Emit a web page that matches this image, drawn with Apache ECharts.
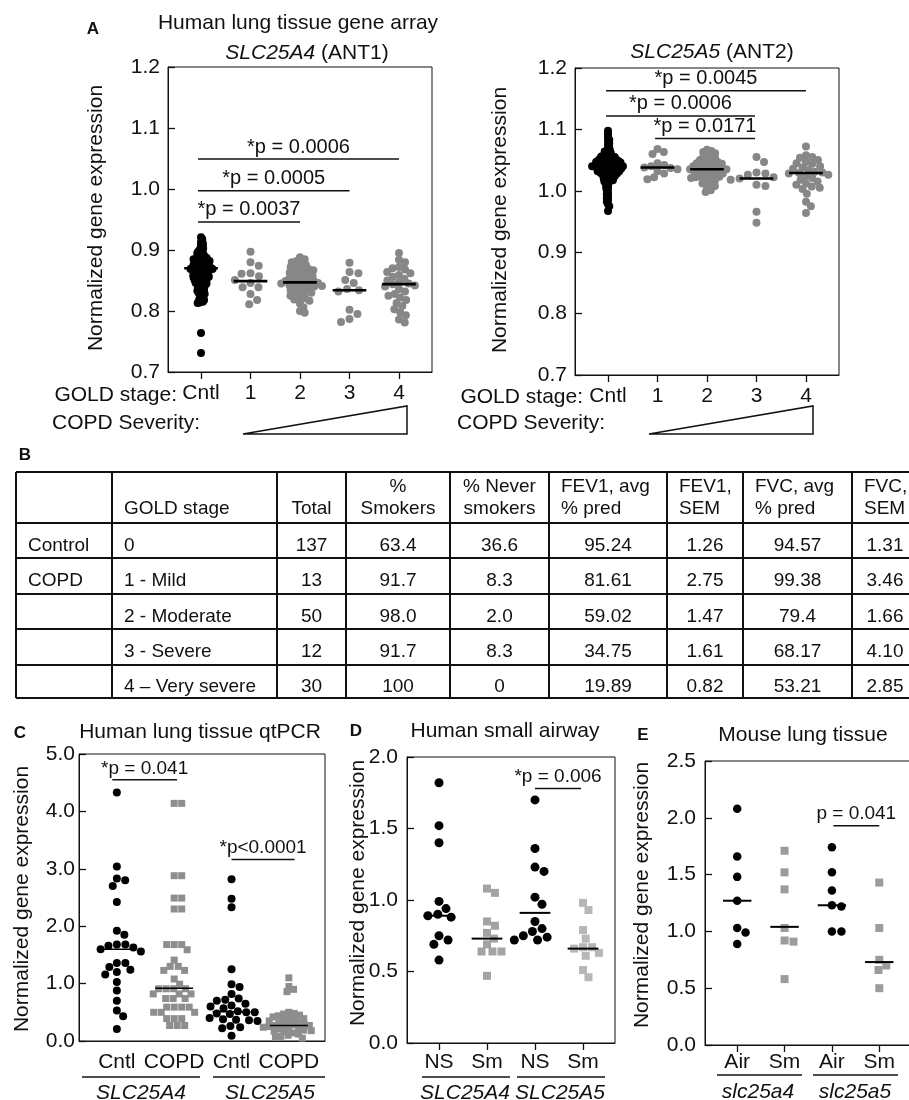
<!DOCTYPE html>
<html>
<head>
<meta charset="utf-8">
<title>SLC25A4 / SLC25A5 expression in COPD</title>
<script src="https://cdn.jsdelivr.net/npm/echarts@6/dist/echarts.min.js"></script>
<style>
  html, body { margin: 0; padding: 0; background: #fff; }
  #chart { width: 909px; height: 1100px; }
</style>
</head>
<body>
<div id="chart"></div>
<script>
// ---------------- data ----------------

// A: gene array, SLC25A4 (ANT1)
const goldStages = ['Cntl', '1', '2', '3', '4'];
const ant1Cntl = [
  0.921, 0.918,
  0.913, 0.911, 0.909, 0.907,
  0.904, 0.903, 0.901, 0.900, 0.898, 0.897, 0.896, 0.895,
  0.894, 0.893, 0.892, 0.891, 0.890, 0.889, 0.889, 0.888, 0.887, 0.887, 0.886, 0.886, 0.885, 0.885,
  0.884, 0.884, 0.883, 0.883, 0.882, 0.882, 0.881, 0.881, 0.880, 0.880, 0.879, 0.879, 0.878, 0.878,
  0.877, 0.877, 0.876, 0.876, 0.875, 0.875,
  0.874, 0.874, 0.873, 0.873, 0.872, 0.872, 0.872, 0.871, 0.871, 0.871, 0.870, 0.870, 0.870, 0.869,
  0.869, 0.869, 0.868, 0.868, 0.867, 0.867, 0.866, 0.866, 0.865, 0.865,
  0.864, 0.864, 0.863, 0.863, 0.862, 0.862, 0.861, 0.861, 0.860, 0.860, 0.859, 0.859, 0.858, 0.858,
  0.857, 0.857, 0.856, 0.856, 0.855, 0.855, 0.855, 0.854,
  0.853, 0.852, 0.852, 0.851, 0.850, 0.850, 0.849, 0.848, 0.848, 0.847, 0.846, 0.846, 0.845, 0.844,
  0.844, 0.843, 0.842, 0.841,
  0.840, 0.839, 0.838, 0.837, 0.836, 0.835, 0.834, 0.833, 0.832, 0.831, 0.830, 0.829,
  0.828, 0.826, 0.824, 0.822, 0.820, 0.819, 0.818,
  0.817, 0.815, 0.814, 0.813,
  0.764, 0.731
];
const ant1Gold1 = [0.897, 0.880, 0.874, 0.862, 0.861, 0.857, 0.851, 0.846, 0.839, 0.839, 0.828, 0.818, 0.811];
const ant1Gold2 = [
  0.888, 0.885, 0.882, 0.880, 0.878, 0.876, 0.874, 0.872, 0.870, 0.869,
  0.867, 0.866, 0.864, 0.863, 0.861, 0.860, 0.858, 0.857, 0.855, 0.854,
  0.852, 0.851, 0.850, 0.849, 0.848, 0.847, 0.846, 0.845, 0.844, 0.843,
  0.842, 0.841, 0.840, 0.838, 0.837, 0.835, 0.834, 0.832, 0.830, 0.829,
  0.827, 0.825, 0.823, 0.821, 0.819, 0.817, 0.812, 0.806, 0.800, 0.797
];
const ant1Gold3 = [0.879, 0.864, 0.862, 0.851, 0.846, 0.836, 0.834, 0.832, 0.802, 0.795, 0.787, 0.782];
const ant1Gold4 = [
  0.895, 0.884, 0.880, 0.872, 0.870, 0.868, 0.864, 0.862, 0.859, 0.856,
  0.853, 0.850, 0.847, 0.845, 0.844, 0.842, 0.840, 0.836, 0.832, 0.828,
  0.825, 0.822, 0.818, 0.813, 0.808, 0.803, 0.798, 0.793, 0.786, 0.781
];
const ant1Medians = [0.870, 0.849, 0.847, 0.834, 0.844];
const ant1PLabels = ['*p = 0.0037', '*p = 0.0005', '*p = 0.0006'];
const ant1PFrom = [-0.06, -0.06, -0.06];
const ant1PTo = [2, 3, 4];
const ant1PLevel = [0.946, 0.997, 1.049];

// A: gene array, SLC25A5 (ANT2)
const ant2Cntl = [
  1.098, 1.094, 1.090, 1.086, 1.083, 1.080,
  1.077, 1.074, 1.071, 1.068, 1.066,
  1.065, 1.064, 1.063, 1.062, 1.061, 1.060, 1.059, 1.058, 1.057, 1.057, 1.056, 1.056, 1.055, 1.055,
  1.054, 1.054, 1.053, 1.053, 1.052, 1.052, 1.051, 1.051, 1.050, 1.050, 1.050, 1.049, 1.049, 1.049,
  1.048, 1.048, 1.048, 1.047, 1.047, 1.047, 1.046, 1.046, 1.046, 1.045, 1.045,
  1.044, 1.044, 1.044, 1.043, 1.043, 1.043, 1.042, 1.042, 1.042, 1.042, 1.041, 1.041, 1.041, 1.041,
  1.040, 1.040, 1.040, 1.040, 1.039, 1.039, 1.039, 1.039, 1.038, 1.038, 1.038, 1.037, 1.037, 1.037,
  1.036, 1.036, 1.036, 1.035,
  1.035, 1.034, 1.034, 1.034, 1.033, 1.033, 1.033, 1.032, 1.032, 1.032, 1.031, 1.031, 1.030, 1.030,
  1.030, 1.029, 1.029, 1.028, 1.028, 1.027, 1.027, 1.026, 1.026, 1.025, 1.025,
  1.024, 1.023, 1.023, 1.022, 1.021, 1.021, 1.020, 1.019, 1.018, 1.018, 1.017, 1.016, 1.015, 1.015,
  1.013, 1.011, 1.009, 1.007, 1.005, 1.003,
  1.000, 0.997, 0.994, 0.991,
  0.988, 0.985, 0.982,
  0.978, 0.975,
  0.967
];
const ant2Gold1 = [1.068, 1.063, 1.060, 1.045, 1.042, 1.040, 1.038, 1.037, 1.035, 1.032, 1.028, 1.022, 1.019];
const ant2Gold2 = [
  1.067, 1.065, 1.063, 1.061, 1.059, 1.057, 1.055, 1.053, 1.051, 1.050,
  1.048, 1.047, 1.046, 1.045, 1.044, 1.043, 1.042, 1.041, 1.040, 1.039,
  1.038, 1.037, 1.036, 1.036, 1.035, 1.035, 1.034, 1.033, 1.032, 1.031,
  1.030, 1.029, 1.028, 1.027, 1.026, 1.025, 1.024, 1.023, 1.022, 1.021,
  1.020, 1.018, 1.016, 1.014, 1.012, 1.010, 1.008, 1.005, 1.001, 0.998
];
const ant2Gold3 = [1.055, 1.047, 1.030, 1.028, 1.026, 1.022, 1.020, 1.018, 1.010, 1.008, 0.966, 0.948];
const ant2Gold4 = [
  1.072, 1.058, 1.055, 1.054, 1.050, 1.047, 1.045, 1.044, 1.040, 1.038,
  1.036, 1.034, 1.031, 1.030, 1.029, 1.028, 1.026, 1.024, 1.021, 1.018,
  1.015, 1.012, 1.010, 1.007, 1.005, 1.003, 0.995, 0.982, 0.975, 0.964
];
const ant2Medians = [1.040, 1.038, 1.035, 1.020, 1.029];
const ant2PLabels = ['*p = 0.0171', '*p = 0.0006', '*p = 0.0045'];
const ant2PFrom = [0.95, -0.04, -0.04];
const ant2PTo = [2.97, 2.97, 4];
const ant2PLevel = [1.085, 1.122, 1.163];

// B: cohort table
const tableHeader = ['', 'GOLD stage', 'Total', '%\nSmokers', '% Never\nsmokers', 'FEV1, avg\n% pred', 'FEV1,\nSEM', 'FVC, avg\n% pred', 'FVC,\nSEM'];
const tableGroup = ['Control', 'COPD', '', '', ''];
const tableStage = ['0', '1 - Mild', '2 - Moderate', '3 - Severe', '4 \u2013 Very severe'];
const tableTotal = ['137', '13', '50', '12', '30'];
const tableSmokers = ['63.4', '91.7', '98.0', '91.7', '100'];
const tableNever = ['36.6', '8.3', '2.0', '8.3', '0'];
const tableFev1Avg = ['95.24', '81.61', '59.02', '34.75', '19.89'];
const tableFev1Sem = ['1.26', '2.75', '1.47', '1.61', '0.82'];
const tableFvcAvg = ['94.57', '99.38', '79.4', '68.17', '53.21'];
const tableFvcSem = ['1.31', '3.46', '1.66', '4.10', '2.85'];

// C: lung tissue qtPCR
const qpcrLabels = ['Cntl', 'COPD', 'Cntl', 'COPD'];
const qpcrA4Cntl = [4.33, 3.04, 2.83, 2.80, 2.70, 2.42, 1.92, 1.85, 1.68, 1.68, 1.66, 1.63, 1.60,
  1.56, 1.36, 1.36, 1.29, 1.24, 1.20, 1.16, 1.03, 0.88, 0.70, 0.53, 0.43, 0.21];
const qpcrA4Copd = [4.14, 4.14, 2.88, 2.88, 2.49, 2.49, 2.30, 2.30, 1.68, 1.68, 1.68, 1.59, 1.41,
  1.30, 1.30, 1.23, 1.23, 1.08, 0.99, 0.91, 0.91, 0.91, 0.91, 0.82, 0.82, 0.82, 0.74, 0.74, 0.74,
  0.59, 0.59, 0.59, 0.59, 0.50, 0.50, 0.50, 0.39, 0.39, 0.39, 0.27, 0.27, 0.27];
const qpcrA5Cntl = [2.82, 2.48, 2.33, 1.25, 0.99, 0.94, 0.82, 0.74, 0.72, 0.70, 0.65, 0.62, 0.60, 0.57,
  0.52, 0.50, 0.50, 0.48, 0.47, 0.40, 0.38, 0.37, 0.36, 0.35, 0.26, 0.24, 0.22, 0.09];
const qpcrA5Copd = [1.10, 0.95, 0.90, 0.86, 0.50, 0.48, 0.47, 0.45, 0.44, 0.42, 0.40, 0.39, 0.38,
  0.36, 0.35, 0.33, 0.32, 0.30, 0.29, 0.28, 0.27, 0.27, 0.26, 0.25, 0.24, 0.22, 0.21, 0.20, 0.19,
  0.18, 0.17, 0.16, 0.14, 0.12, 0.10, 0.08, 0.06, 0.05];
const qpcrMedians = [1.60, 0.92, 0.51, 0.27];
const qpcrPLabels = ['*p = 0.041', '*p<0.0001'];
const qpcrPFrom = [-0.08, 2.0];
const qpcrPTo = [1.05, 3.1];
const qpcrPLevel = [4.55, 3.16];

// D: small airway
const airwayLabels = ['NS', 'Sm', 'NS', 'Sm'];
const airwayA4Ns = [1.82, 1.52, 1.40, 0.99, 0.94, 0.90, 0.89, 0.88, 0.75, 0.72, 0.69, 0.58];
const airwayA4Sm = [1.08, 1.05, 0.85, 0.82, 0.77, 0.73, 0.69, 0.64, 0.64, 0.64, 0.47];
const airwayA5Ns = [1.70, 1.36, 1.23, 1.20, 1.02, 0.97, 0.85, 0.80, 0.78, 0.75, 0.74, 0.72, 0.72];
const airwayA5Sm = [0.98, 0.93, 0.79, 0.73, 0.67, 0.67, 0.66, 0.63, 0.61, 0.51, 0.46];
const airwayMedians = [0.89, 0.73, 0.91, 0.66];
const airwayPLabels = ['*p = 0.006'];
const airwayPFrom = [2.0];
const airwayPTo = [2.96];
const airwayPLevel = [1.78];

// E: mouse lung tissue
const mouseLabels = ['Air', 'Sm', 'Air', 'Sm'];
const mouseA4Air = [2.08, 1.66, 1.48, 1.27, 1.03, 0.99, 0.89];
const mouseA4Sm = [1.71, 1.52, 1.37, 1.03, 0.92, 0.91, 0.58];
const mouseA5Air = [1.74, 1.52, 1.36, 1.23, 1.22, 1.00, 1.00];
const mouseA5Sm = [1.43, 1.03, 0.75, 0.70, 0.66, 0.50];
const mouseMedians = [1.27, 1.04, 1.23, 0.73];
const mousePLabels = ['p = 0.041'];
const mousePFrom = [2.03];
const mousePTo = [3.0];
const mousePLevel = [1.93];

// ---------------- layout & styles ----------------
const FONT = '"Liberation Sans", Arial, Helvetica, sans-serif';
const INK = '#111111';

const panels = [
  { left: 168, top: 67, width: 264, height: 305, x: [-0.667, 4.667], y: [0.7, 1.2, 0.1], labels: goldStages, ticks: true, lm: 11, ym: 8 },
  { left: 575, top: 68, width: 264, height: 307, x: [-0.667, 4.667], y: [0.7, 1.2, 0.1], labels: goldStages, ticks: true, lm: 11, ym: 8 },
  { left: 79, top: 754, width: 246, height: 287, x: [-0.66, 3.63], y: [0, 5, 1], labels: qpcrLabels, ticks: false, lm: 11, ym: 4 },
  { left: 407, top: 757, width: 208, height: 286, x: [-0.667, 3.667], y: [0, 2, 0.5], labels: airwayLabels, ticks: true, lm: 9, ym: 9 },
  { left: 705, top: 761, width: 206, height: 284, x: [-0.68, 3.67], y: [0, 2.5, 0.5], labels: mouseLabels, ticks: true, lm: 7, ym: 9 }
];
panels.forEach(p => {
  p.pxX = p.width / (p.x[1] - p.x[0]);
  p.pxY = p.height / (p.y[1] - p.y[0]);
});

// beeswarm: place each point as close to the group centre as it can go without overlap
function swarmOffsets(values, pxPerX, pxPerY, gap) {
  const order = values.map((v, i) => i).sort((a, b) => values[b] - values[a]);
  const placed = [];
  const offsets = new Array(values.length).fill(0);
  order.forEach(i => {
    const y = values[i] * pxPerY;
    const near = placed.filter(p => Math.abs(p.y - y) < gap);
    const cands = [0];
    near.forEach(p => {
      const dx = Math.sqrt(gap * gap - (p.y - y) * (p.y - y)) + 0.01;
      cands.push(p.x + dx, p.x - dx);
    });
    cands.sort((a, b) => Math.abs(a) - Math.abs(b));
    const x = cands.find(c => near.every(p => (p.x - c) * (p.x - c) + (p.y - y) * (p.y - y) >= gap * gap - 0.05));
    placed.push({ x, y });
    offsets[i] = x / pxPerX;
  });
  return offsets;
}

function groupSeries(pi, xPos, values, look) {
  const p = panels[pi];
  const off = swarmOffsets(values, p.pxX, p.pxY, look.gap);
  return {
    type: 'scatter', xAxisIndex: pi, yAxisIndex: pi, silent: true, z: 2,
    symbol: look.symbol, symbolSize: look.size,
    itemStyle: { color: look.color, opacity: 1 },
    data: values.map((v, i) => [xPos + off[i], v])
  };
}

function medianSeries(pi, medians, halfWidth, width) {
  return {
    type: 'custom', xAxisIndex: pi, yAxisIndex: pi, silent: true, z: 5,
    data: medians.map((m, i) => [i, m]),
    renderItem: (params, api) => {
      const a = api.coord([api.value(0) - halfWidth, api.value(1)]);
      const b = api.coord([api.value(0) + halfWidth, api.value(1)]);
      return { type: 'line', shape: { x1: a[0], y1: a[1], x2: b[0], y2: b[1] }, style: { stroke: '#000', lineWidth: width } };
    }
  };
}

function bracketSeries(pi, labels, from, to, level, fontSize) {
  return {
    type: 'custom', xAxisIndex: pi, yAxisIndex: pi, silent: true, z: 6,
    data: labels.map((t, i) => [from[i], level[i], to[i]]),
    renderItem: (params, api) => {
      const a = api.coord([api.value(0), api.value(1)]);
      const b = api.coord([api.value(2), api.value(1)]);
      return {
        type: 'group',
        children: [
          { type: 'line', shape: { x1: a[0], y1: a[1], x2: b[0], y2: b[1] }, style: { stroke: INK, lineWidth: 1.5 } },
          { type: 'text', x: (a[0] + b[0]) / 2, y: a[1] - 2,
            style: { text: labels[params.dataIndex], fontFamily: FONT, fontSize, fill: INK, align: 'center', verticalAlign: 'bottom' } }
        ]
      };
    }
  };
}

const black = (size, gap) => ({ symbol: 'circle', size, gap, color: '#000' });
const grayDot = (size, gap) => ({ symbol: 'circle', size, gap, color: '#878787' });
const graySq = (size, gap, color) => ({ symbol: 'rect', size, gap, color });

const series = [
  groupSeries(0, 0, ant1Cntl, black(8, 2.2)),
  groupSeries(0, 1, ant1Gold1, grayDot(8, 9)),
  groupSeries(0, 2, ant1Gold2, grayDot(8, 5)),
  groupSeries(0, 3, ant1Gold3, grayDot(8, 9)),
  groupSeries(0, 4, ant1Gold4, grayDot(8, 6.5)),
  medianSeries(0, ant1Medians, 0.34, 2.6),
  bracketSeries(0, ant1PLabels, ant1PFrom, ant1PTo, ant1PLevel, 20),

  groupSeries(1, 0, ant2Cntl, black(8, 2.2)),
  groupSeries(1, 1, ant2Gold1, grayDot(8, 7)),
  groupSeries(1, 2, ant2Gold2, grayDot(8, 4.5)),
  groupSeries(1, 3, ant2Gold3, grayDot(8, 9)),
  groupSeries(1, 4, ant2Gold4, grayDot(8, 6.5)),
  medianSeries(1, ant2Medians, 0.34, 2.6),
  bracketSeries(1, ant2PLabels, ant2PFrom, ant2PTo, ant2PLevel, 20),

  groupSeries(2, 0, qpcrA4Cntl, black(8, 8.5)),
  groupSeries(2, 1, qpcrA4Copd, graySq(7, 7.5, '#8e8e8e')),
  groupSeries(2, 2, qpcrA5Cntl, black(8, 8.5)),
  groupSeries(2, 3, qpcrA5Copd, graySq(7, 5.5, '#8e8e8e')),
  medianSeries(2, qpcrMedians, 0.33, 1.5),
  bracketSeries(2, qpcrPLabels, qpcrPFrom, qpcrPTo, qpcrPLevel, 19),

  groupSeries(3, 0, airwayA4Ns, black(9, 10)),
  groupSeries(3, 1, airwayA4Sm, graySq(8, 9, '#a3a3a3')),
  groupSeries(3, 2, airwayA5Ns, black(9, 10)),
  groupSeries(3, 3, airwayA5Sm, graySq(8, 9, '#b7b7b7')),
  medianSeries(3, airwayMedians, 0.32, 2),
  bracketSeries(3, airwayPLabels, airwayPFrom, airwayPTo, airwayPLevel, 19),

  groupSeries(4, 0, mouseA4Air, black(8.5, 9.5)),
  groupSeries(4, 1, mouseA4Sm, graySq(8, 9, '#9c9c9c')),
  groupSeries(4, 2, mouseA5Air, black(8.5, 9.5)),
  groupSeries(4, 3, mouseA5Sm, graySq(8, 9, '#9c9c9c')),
  medianSeries(4, mouseMedians, 0.3, 2),
  bracketSeries(4, mousePLabels, mousePFrom, mousePTo, mousePLevel, 19)
];

// ---------------- annotations ----------------
function txt(x, y, text, o) {
  o = o || {};
  return {
    type: 'text', x, y, rotation: o.rot || 0, silent: true,
    style: {
      text, fontFamily: FONT, fontSize: o.size || 21, fontWeight: o.weight || 'normal',
      fontStyle: o.italic ? 'italic' : 'normal', fill: INK,
      align: o.align || 'center', verticalAlign: o.va || 'middle', lineHeight: o.lh || 22,
      rich: o.rich
    }
  };
}
function seg(x1, y1, x2, y2, w) {
  return { type: 'line', silent: true, shape: { x1, y1, x2, y2 }, style: { stroke: INK, lineWidth: w || 1.5 } };
}
const italicRich = { i: { fontStyle: 'italic', fontFamily: FONT, fontSize: 21, fill: INK } };
const yName = 'Normalized gene expression';
const up = Math.PI / 2;

const graphics = [
  // A
  txt(93, 29, 'A', { size: 17, weight: 'bold' }),
  txt(298, 23, 'Human lung tissue gene array'),
  txt(307, 53, '{i|SLC25A4} (ANT1)', { rich: italicRich }),
  txt(712, 52, '{i|SLC25A5} (ANT2)', { rich: italicRich }),
  txt(96, 218, yName, { rot: up }),
  txt(500, 220, yName, { rot: up }),
  txt(177, 395, 'GOLD stage:', { align: 'right' }),
  txt(583, 397, 'GOLD stage:', { align: 'right' }),
  txt(52, 423, 'COPD Severity:', { align: 'left' }),
  txt(457, 423, 'COPD Severity:', { align: 'left' }),
  { type: 'polygon', silent: true, shape: { points: [[243, 434], [407, 406], [407, 434]] }, style: { fill: 'none', stroke: INK, lineWidth: 1.5 } },
  { type: 'polygon', silent: true, shape: { points: [[649, 434], [813, 406], [813, 434]] }, style: { fill: 'none', stroke: INK, lineWidth: 1.5 } },
  // B
  txt(25, 455, 'B', { size: 17, weight: 'bold' }),
  // C
  txt(20, 733, 'C', { size: 17, weight: 'bold' }),
  txt(200, 732, 'Human lung tissue qtPCR'),
  txt(22, 899, yName, { rot: up }),
  seg(82, 1077, 200, 1077, 1.3), seg(213, 1077, 325, 1077, 1.3),
  txt(141, 1093, 'SLC25A4', { italic: true }),
  txt(270, 1093, 'SLC25A5', { italic: true }),
  // D
  txt(356, 731, 'D', { size: 17, weight: 'bold' }),
  txt(505, 731, 'Human small airway'),
  txt(358, 893, yName, { rot: up }),
  seg(422, 1077, 510, 1077, 1.3), seg(517, 1077, 605, 1077, 1.3),
  txt(465, 1093, 'SLC25A4', { italic: true }),
  txt(560, 1093, 'SLC25A5', { italic: true }),
  // E
  txt(643, 735, 'E', { size: 17, weight: 'bold' }),
  txt(803, 735, 'Mouse lung tissue'),
  txt(642, 895, yName, { rot: up }),
  seg(717, 1075, 802, 1075, 1.3), seg(813, 1075, 898, 1075, 1.3),
  txt(758, 1092, 'slc25a4', { italic: true }),
  txt(855, 1092, 'slc25a5', { italic: true })
];

// table B grid
const colX = [16, 112, 277, 346, 450, 549, 667, 743, 852, 918];
const rowY = [472, 523, 558, 594, 629, 665, 698];
colX.forEach(x => graphics.push(seg(x, rowY[0], x, rowY[rowY.length - 1], 2)));
rowY.forEach(y => graphics.push(seg(colX[0], y, colX[colX.length - 1], y, 2)));
const headLeft = [false, true, false, false, false, true, true, true, true];
tableHeader.forEach((h, c) => {
  if (!h) return;
  const two = h.indexOf('\n') >= 0;
  const x = headLeft[c] ? colX[c] + 12 : (colX[c] + colX[c + 1]) / 2;
  graphics.push(txt(x, two ? 498 : 509, h, { size: 19, align: headLeft[c] ? 'left' : 'center' }));
});
const tableCols = [tableGroup, tableStage, tableTotal, tableSmokers, tableNever, tableFev1Avg, tableFev1Sem, tableFvcAvg, tableFvcSem];
tableCols.forEach((col, c) => {
  col.forEach((v, r) => {
    if (!v) return;
    const y = (rowY[r + 1] + rowY[r + 2]) / 2 + 5;
    const left = c < 2;
    graphics.push(txt(left ? colX[c] + 12 : (colX[c] + colX[c + 1]) / 2, y, v, { size: 19, align: left ? 'left' : 'center' }));
  });
});

// ---------------- axes ----------------
const grids = panels.map(p => ({
  left: p.left, top: p.top, width: p.width, height: p.height,
  show: true, borderColor: INK, borderWidth: 1, containLabel: false, outerBoundsMode: 'none'
}));
const xAxes = panels.map((p, i) => {
  const pos = p.labels.map((_, k) => k);
  return {
    type: 'value', gridIndex: i, min: p.x[0], max: p.x[1], position: 'bottom',
    splitLine: { show: false },
    axisLine: { show: true, onZero: false, lineStyle: { color: INK, width: 1 } },
    axisTick: { show: p.ticks, customValues: pos, inside: false, length: 7, lineStyle: { color: INK, width: 1.3 } },
    axisLabel: {
      customValues: pos, margin: p.lm, formatter: v => p.labels[Math.round(v)] || '',
      color: INK, fontFamily: FONT, fontSize: 21
    }
  };
});
const yAxes = panels.map((p, i) => ({
  type: 'value', gridIndex: i, min: p.y[0], max: p.y[1], interval: p.y[2],
  splitLine: { show: false },
  axisLine: { show: true, onZero: false, lineStyle: { color: INK, width: 1 } },
  axisTick: { show: true, inside: true, length: 7, lineStyle: { color: INK, width: 1.3 } },
  axisLabel: { margin: p.ym, formatter: v => v.toFixed(1), color: INK, fontFamily: FONT, fontSize: 21 }
}));

const chart = echarts.init(document.getElementById('chart'));
chart.setOption({
  animation: false,
  backgroundColor: '#fff',
  grid: grids,
  xAxis: xAxes,
  yAxis: yAxes,
  series: series,
  graphic: { elements: graphics }
});
</script>
</body>
</html>
